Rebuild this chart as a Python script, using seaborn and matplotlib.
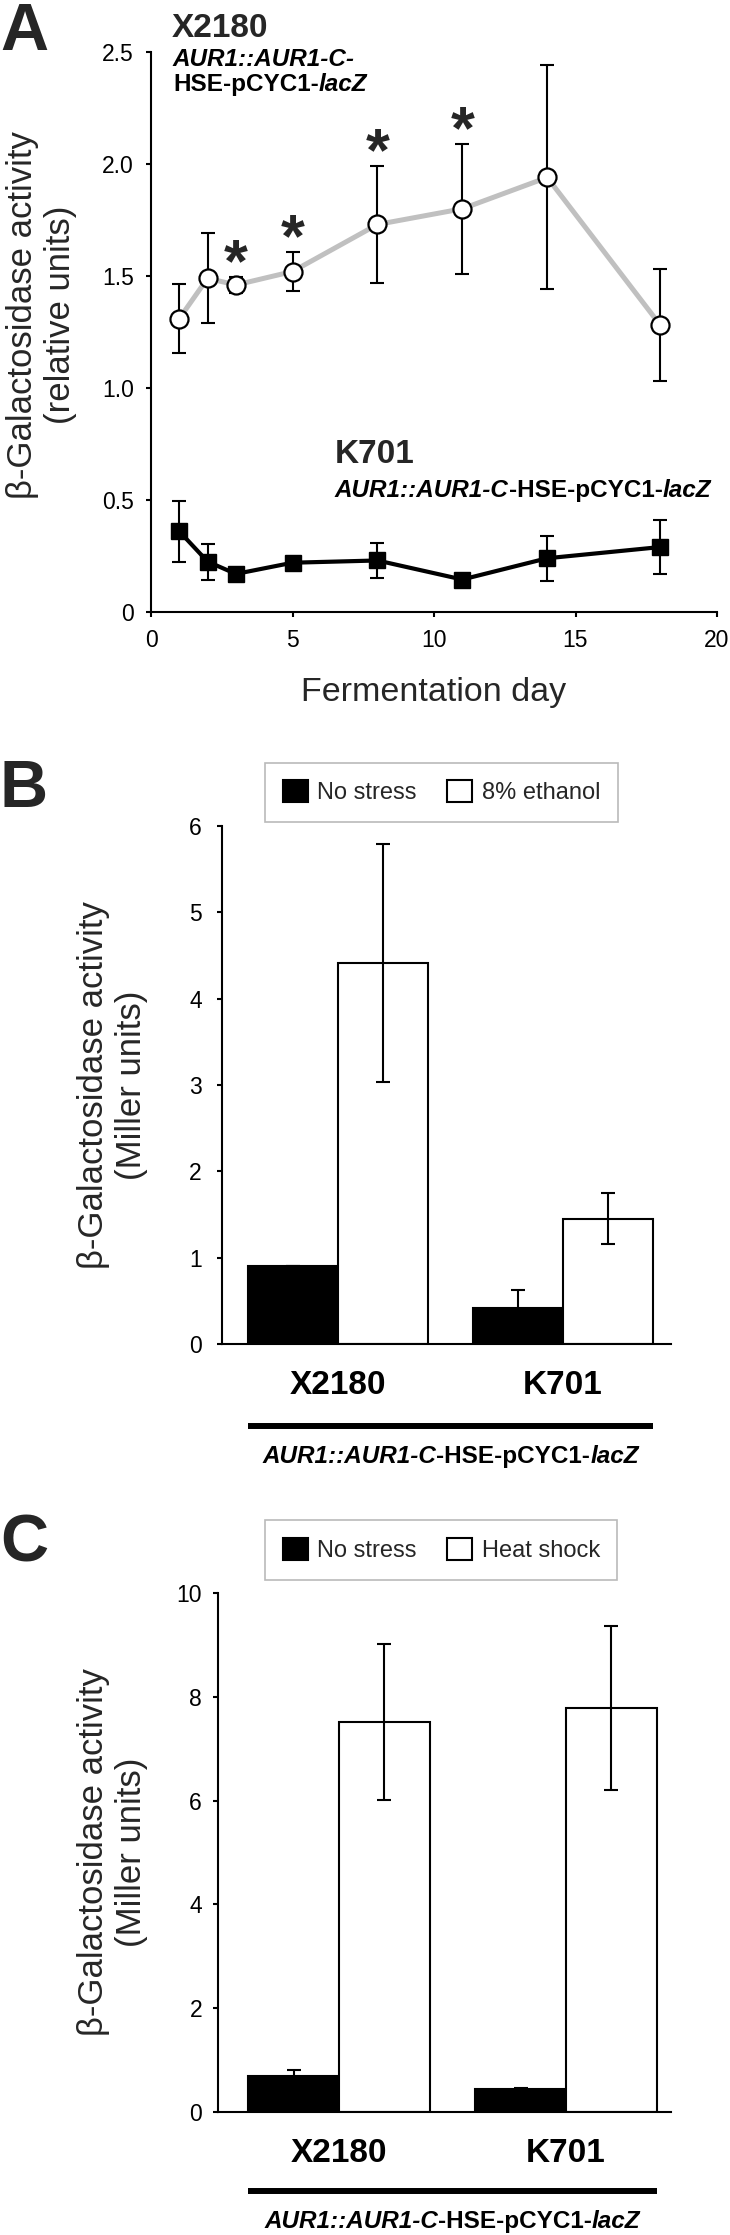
import matplotlib
matplotlib.use("Agg")
import pandas as pd
import matplotlib.pyplot as plt
import seaborn as sns
from matplotlib.patches import Patch
from matplotlib.offsetbox import TextArea, HPacker, AnnotationBbox

# Panel A: fermentation time course (relative units)
days = [1, 2, 3, 5, 8, 11, 14, 18]
x2180_mean = [1.31, 1.49, 1.46, 1.52, 1.73, 1.80, 1.94, 1.28]
x2180_err = [0.155, 0.20, 0.037, 0.088, 0.26, 0.29, 0.50, 0.25]
k701_mean = [0.36, 0.225, 0.17, 0.22, 0.23, 0.145, 0.24, 0.29]
k701_err = [0.137, 0.08, 0.02, 0.02, 0.08, 0.02, 0.10, 0.12]
signif_days = [3, 5, 8, 11]
a_yticks = [0, 0.5, 1.0, 1.5, 2.0, 2.5]
a_yticklabels = ['0', '0.5', '1.0', '1.5', '2.0', '2.5']
a_xticks = [0, 5, 10, 15, 20]

# Panels B and C: Miller units
strains = ['X2180', 'K701']
b_conditions = ['No stress', '8% ethanol']
b_nostress = [0.90, 0.42]
b_nostress_err = [0.0, 0.21]
b_ethanol = [4.41, 1.45]
b_ethanol_err = [1.38, 0.295]

c_conditions = ['No stress', 'Heat shock']
c_nostress = [0.69, 0.44]
c_nostress_err = [0.12, 0.03]
c_heat = [7.51, 7.78]
c_heat_err = [1.50, 1.58]

sns.set_style("ticks")
plt.rcParams['font.family'] = ['Liberation Sans', 'DejaVu Sans']
plt.rcParams['axes.linewidth'] = 1.5
plt.rcParams['xtick.major.width'] = 1.5
plt.rcParams['ytick.major.width'] = 1.5
plt.rcParams['xtick.major.size'] = 3.5
plt.rcParams['ytick.major.size'] = 3.5
plt.rcParams['xtick.color'] = 'black'
plt.rcParams['ytick.color'] = 'black'
plt.rcParams['axes.edgecolor'] = 'black'

W, H = 730, 2235
fig = plt.figure(figsize=(W / 100, H / 100), dpi=100)


def box(left, top, right, bottom):
    # pixel box -> figure fraction rect
    return [left / W, 1 - bottom / H, (right - left) / W, (bottom - top) / H]


def rich(ax_or_fig, parts, size, xy, xycoords, align=(0, 0)):
    areas = [TextArea(t, textprops=dict(fontsize=size, fontweight='bold',
                                        fontstyle=st, color='black'))
             for t, st in parts]
    pack = HPacker(children=areas, align='baseline', pad=0, sep=0)
    ab = AnnotationBbox(pack, xy, xycoords=xycoords, box_alignment=align,
                        frameon=False, pad=0, annotation_clip=False)
    ax_or_fig.add_artist(ab)


geno_full = [('AUR1::AUR1-C', 'italic'), ('-HSE-pCYC1-', 'normal'), ('lacZ', 'italic')]

# ---------------- Panel A ----------------
axA = fig.add_axes(box(151, 52, 717, 612))
axA.errorbar(days, x2180_mean, yerr=x2180_err, fmt='none', ecolor='black',
             elinewidth=1.5, capsize=5, capthick=1.5, zorder=2)
axA.errorbar(days, k701_mean, yerr=k701_err, fmt='none', ecolor='black',
             elinewidth=1.5, capsize=5, capthick=1.5, zorder=2)
sns.lineplot(x=days, y=x2180_mean, ax=axA, color='#c0c0c0', linewidth=3.6,
             marker='o', markersize=13, markerfacecolor='white',
             markeredgecolor='black', markeredgewidth=1.6, zorder=3)
sns.lineplot(x=days, y=k701_mean, ax=axA, color='black', linewidth=3,
             marker='s', markersize=12, markerfacecolor='black',
             markeredgecolor='black', markeredgewidth=1, zorder=3)
for d in signif_days:
    i = days.index(d)
    axA.annotate('*', (d, x2180_mean[i] + x2180_err[i]), xytext=(0, -3),
                 textcoords='offset points', ha='center', va='baseline',
                 fontsize=44, fontweight='bold')
axA.set_xlim(0, 20)
axA.set_ylim(0, 2.5)
axA.set_xticks(a_xticks)
axA.set_yticks(a_yticks)
axA.set_yticklabels(a_yticklabels)
axA.tick_params(axis='both', labelsize=16.5, direction='out')
axA.tick_params(axis='x', pad=8.5)
axA.tick_params(axis='y', pad=9)
axA.set_xlabel('Fermentation day', fontsize=24.5, labelpad=18)
axA.set_ylabel('β-Galactosidase activity\n(relative units)', fontsize=25)
axA.yaxis.set_label_coords(-0.13, 0.53)
sns.despine(ax=axA)

fig.text(172 / W, 1 - 37 / H, 'X2180', fontsize=24, fontweight='bold', va='baseline')
rich(fig, [('AUR1::AUR1-C-', 'italic')], 17.5, (173 / W, 1 - 71 / H), 'figure fraction')
rich(fig, [('HSE-pCYC1-', 'normal'), ('lacZ', 'italic')], 17.5, (173 / W, 1 - 96 / H),
     'figure fraction')
fig.text(335 / W, 1 - 463 / H, 'K701', fontsize=24, fontweight='bold', va='baseline')
rich(fig, geno_full, 17.5, (335 / W, 1 - 502 / H), 'figure fraction')


# ---------------- Panels B and C ----------------
def bar_panel(rect, conditions, ns, ns_err, st, st_err, ymax, yticks, xlim,
              leg_xy, line_y, cap_y, ypad, label_x):
    ax = fig.add_axes(rect)
    df = pd.DataFrame({
        'strain': strains * 2,
        'condition': [conditions[0]] * 2 + [conditions[1]] * 2,
        'value': ns + st,
    })
    sns.barplot(data=df, x='strain', y='value', hue='condition', order=strains,
                hue_order=conditions, palette=['black', 'white'], saturation=1,
                edgecolor='black', linewidth=1.5, errorbar=None, width=0.8,
                legend=False, ax=ax)
    for cont, errs in zip(ax.containers, [ns_err, st_err]):
        xs = [b.get_x() + b.get_width() / 2 for b in cont]
        ys = [b.get_height() for b in cont]
        ax.errorbar(xs, ys, yerr=errs, fmt='none', ecolor='black',
                    elinewidth=1.5, capsize=5, capthick=1.5, zorder=3)
    ax.set_ylim(0, ymax)
    ax.set_yticks(yticks)
    ax.set_yticklabels([str(t) for t in yticks])
    ax.set_xlim(*xlim)
    ax.set_xlabel('')
    ax.set_ylabel('β-Galactosidase activity\n(Miller units)', fontsize=25)
    ax.yaxis.set_label_coords(label_x, 0.5)
    ax.tick_params(axis='y', labelsize=16.5, pad=ypad)
    ax.tick_params(axis='x', length=0, labelsize=24, pad=19)
    for lab in ax.get_xticklabels():
        lab.set_fontweight('bold')
    sns.despine(ax=ax)

    handles = [Patch(facecolor='black', edgecolor='black', linewidth=1.5),
               Patch(facecolor='white', edgecolor='black', linewidth=1.5)]
    leg = ax.legend(handles, conditions, ncol=2, loc='center',
                    bbox_to_anchor=leg_xy, bbox_transform=ax.transAxes,
                    frameon=True, fancybox=False, edgecolor='#a8a8a8',
                    fontsize=17, handlelength=1.05, handleheight=1.05,
                    handletextpad=0.4, columnspacing=1.3, borderpad=0.75)
    leg.get_frame().set_linewidth(1.2)

    lefts = [b.get_x() for b in ax.patches]
    rights = [b.get_x() + b.get_width() for b in ax.patches]
    x0, x1 = min(lefts), max(rights)
    ax.plot([x0, x1], [line_y, line_y], transform=ax.get_xaxis_transform(),
            color='black', linewidth=4.3, clip_on=False, solid_capstyle='butt')
    rich(ax, geno_full, 17.5, ((x0 + x1) / 2, cap_y), ax.get_xaxis_transform(),
         align=(0.5, 0))
    return ax


bar_panel(box(222, 826, 671, 1344), b_conditions, b_nostress, b_nostress_err,
          b_ethanol, b_ethanol_err, 6, [0, 1, 2, 3, 4, 5, 6], (-0.516, 1.48),
          (0.489, 1.065), -0.158, -0.239, 11, -0.165)
bar_panel(box(218, 1593, 671, 2112), c_conditions, c_nostress, c_nostress_err,
          c_heat, c_heat_err, 10, [0, 2, 4, 6, 8, 10], (-0.533, 1.463),
          (0.493, 1.083), -0.152, -0.233, 8, -0.155)

# panel letters
for letter, base in [('A', 50), ('B', 807), ('C', 1561)]:
    fig.text(0.0, 1 - base / H, letter, fontsize=48, fontweight='bold', va='baseline')

fig.savefig('out.png', dpi=100)
